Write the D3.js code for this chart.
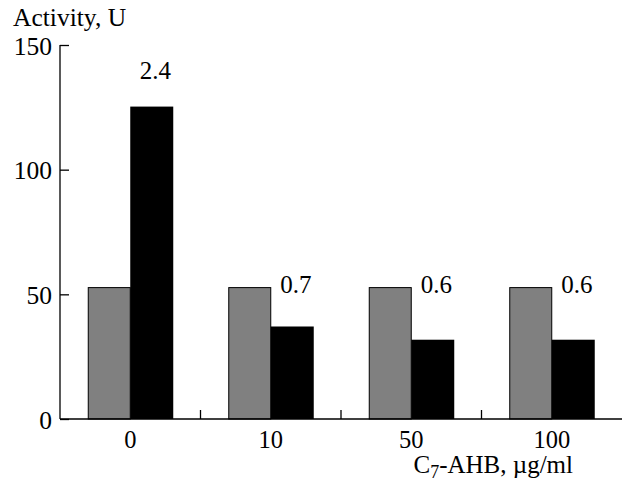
<!DOCTYPE html>
<html>
<head>
<meta charset="utf-8">
<script src="https://cdn.jsdelivr.net/npm/d3@7"></script>
<style>
  body { margin: 0; background: white; }
</style>
</head>
<body>
<script>
// data
var categories = ["0", "10", "50", "100"];
var grayValues = [52.7, 52.7, 52.7, 52.7];
var blackValues = [125.3, 37.1, 31.8, 31.8];
var ratioLabels = ["2.4", "0.7", "0.6", "0.6"];
var yTicks = [0, 50, 100, 150];

var width = 622, height = 485;
var plotLeft = 60, plotRight = 622, plotTop = 45, plotBottom = 419;
var serif = "'Liberation Serif', 'Times New Roman', serif";

var svg = d3.select("body")
  .append("svg")
    .attr("width", width)
    .attr("height", height)
    .style("font-family", serif);

var x = d3.scaleBand()
  .domain(categories)
  .range([plotLeft, plotRight])
  .padding(0);

var y = d3.scaleLinear()
  .domain([0, 150])
  .range([plotBottom, plotTop]);

var barW = 42;

var data = categories.map(function(c, i) {
  return {cat: c, gray: grayValues[i], black: blackValues[i], label: ratioLabels[i]};
});

// gray bars
svg.selectAll("rect.gray")
  .data(data)
  .enter()
  .append("rect")
    .attr("class", "gray")
    .attr("x", function(d) { return x(d.cat) + x.bandwidth() / 2 - barW; })
    .attr("y", function(d) { return y(d.gray); })
    .attr("width", barW)
    .attr("height", function(d) { return y(0) - y(d.gray); })
    .attr("fill", "#808080")
    .attr("stroke", "#000")
    .attr("stroke-width", 1);

// black bars
svg.selectAll("rect.black")
  .data(data)
  .enter()
  .append("rect")
    .attr("class", "black")
    .attr("x", function(d) { return x(d.cat) + x.bandwidth() / 2; })
    .attr("y", function(d) { return y(d.black); })
    .attr("width", barW + 1)
    .attr("height", function(d) { return y(0) - y(d.black); })
    .attr("fill", "#000");

// ratio labels above the bars
svg.selectAll("text.ratio")
  .data(data)
  .enter()
  .append("text")
    .attr("class", "ratio")
    .attr("x", function(d) { return x(d.cat) + x.bandwidth() / 2 + barW / 2 + 4; })
    .attr("y", function(d) { return y(Math.max(d.black + 11, d.gray - 2)); })
    .attr("text-anchor", "middle")
    .style("font-family", serif)
    .style("font-size", "25px")
    .text(function(d) { return d.label; });

// y axis
var yAxis = svg.append("g")
  .attr("transform", "translate(" + plotLeft + ",0)")
  .call(d3.axisLeft(y).tickValues(yTicks).tickSize(-9).tickPadding(8));
yAxis.attr("font-family", null).attr("font-size", null);
yAxis.select(".domain").attr("d", "M0," + plotTop + "V" + plotBottom).attr("stroke-width", 1.3);
yAxis.selectAll(".tick line").attr("stroke-width", 1.3);
yAxis.selectAll(".tick text")
  .attr("dy", "0.36em")
  .style("font-size", "25.5px")
  .style("font-family", serif)
  .attr("fill", "#000");

// x axis with ticks between the groups
var xAxis = svg.append("g")
  .attr("transform", "translate(0," + plotBottom + ")");
xAxis.append("line")
  .attr("x1", plotLeft).attr("x2", plotRight)
  .attr("stroke", "#000").attr("stroke-width", 1.3);
xAxis.selectAll("line.sep")
  .data(categories.slice(1))
  .enter()
  .append("line")
    .attr("class", "sep")
    .attr("x1", function(d) { return x(d); })
    .attr("x2", function(d) { return x(d); })
    .attr("y1", 0).attr("y2", -9)
    .attr("stroke", "#000").attr("stroke-width", 1.3);
xAxis.selectAll("text")
  .data(categories)
  .enter()
  .append("text")
    .attr("x", function(d) { return x(d) + x.bandwidth() / 2; })
    .attr("y", 29)
    .attr("text-anchor", "middle")
    .style("font-family", serif)
    .style("font-size", "24.5px")
    .text(function(d) { return d; });

// axis titles
svg.append("text")
  .attr("x", 13)
  .attr("y", 26)
  .style("font-family", serif)
  .style("font-size", "25.5px")
  .text("Activity, U");

var xt = svg.append("text")
  .attr("x", 573)
  .attr("y", 473)
  .attr("text-anchor", "end")
  .style("font-family", serif)
  .style("font-size", "25px");
xt.append("tspan").text("C");
xt.append("tspan").attr("dy", 5).style("font-size", "18px").text("7");
xt.append("tspan").attr("dy", -5).text("-AHB, \u00b5g/ml");
</script>
</body>
</html>
